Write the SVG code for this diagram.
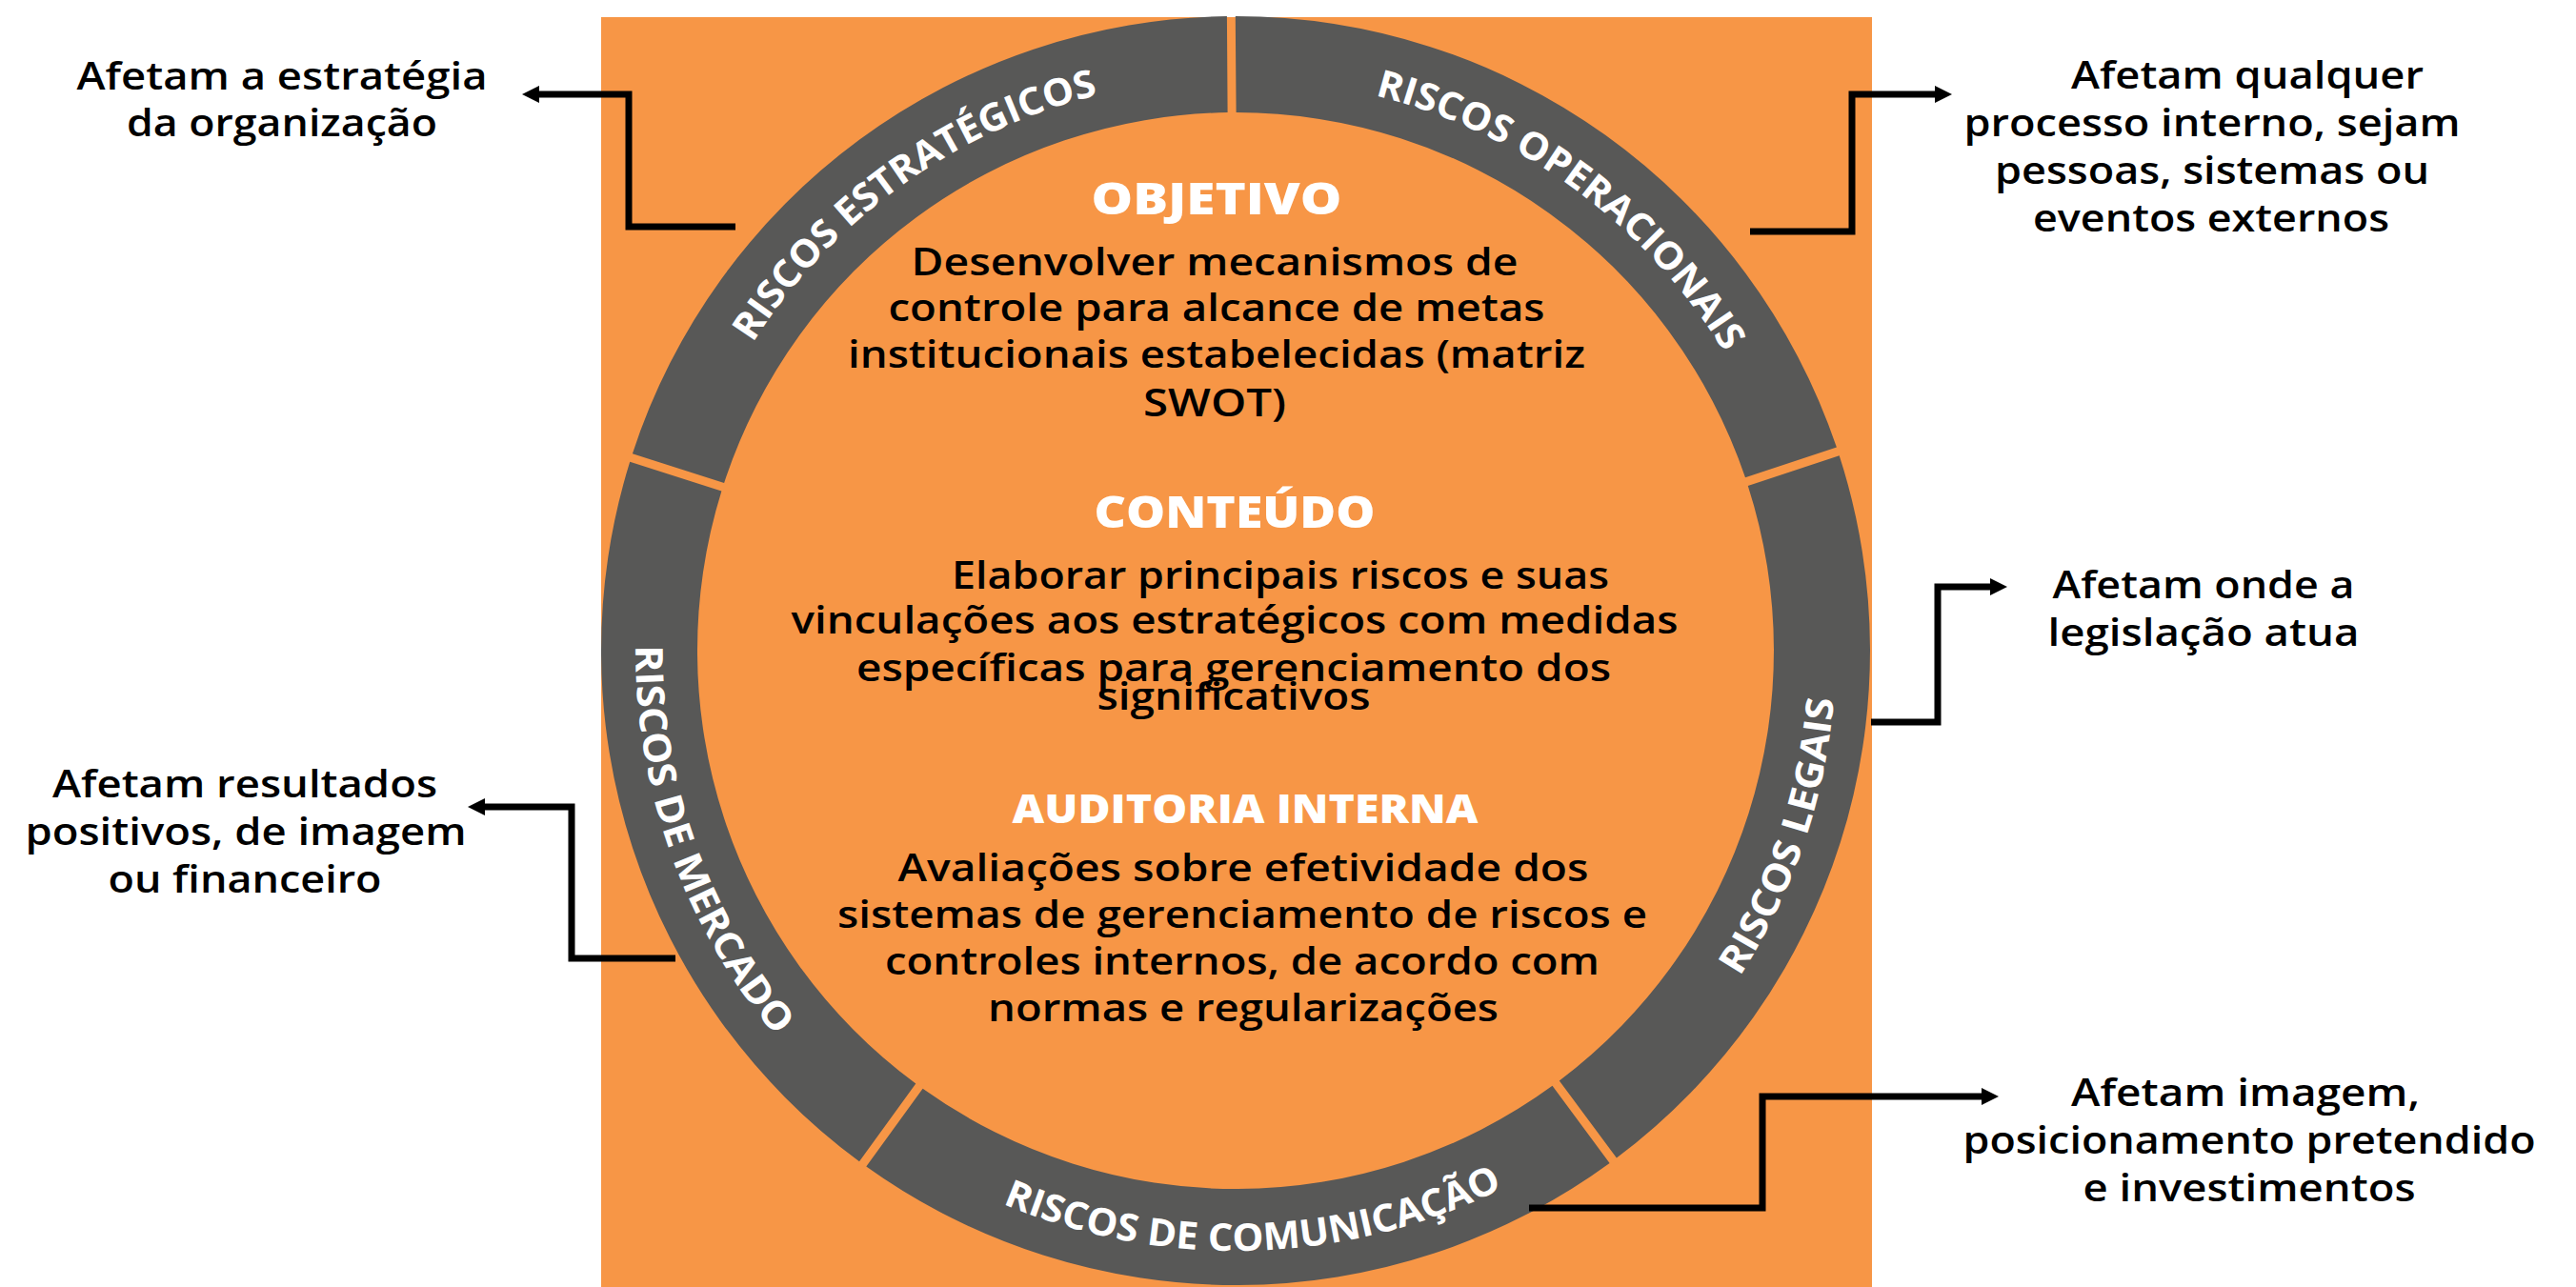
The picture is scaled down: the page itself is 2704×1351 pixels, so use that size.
<svg xmlns="http://www.w3.org/2000/svg" xmlns:xlink="http://www.w3.org/1999/xlink" width="2704" height="1351" viewBox="0 0 2704 1351">
<style>
.txt{font-family:"Open Sans","Liberation Sans",sans-serif;font-size:40px;font-weight:600;fill:#000;text-anchor:middle}
.title{font-family:"Open Sans","Liberation Sans",sans-serif;font-weight:800;fill:#fff;text-anchor:middle}
.ring{font-family:"Open Sans","Liberation Sans",sans-serif;font-size:40px;font-weight:700;fill:#fff;text-anchor:middle}
.seg{fill:#585857}
.conn{fill:none;stroke:#000;stroke-width:7;stroke-linejoin:miter}
</style>
<defs>
<marker id="arrow" markerUnits="userSpaceOnUse" viewBox="0 0 18 18" markerWidth="18" markerHeight="18" refX="6" refY="9" orient="auto">
<path d="M0,0 L18,9 L0,18 Z" fill="#000"/>
</marker>
<path id="p-estr" d="M733.3,474.5 A601,601 0 0 1 1279.2,82.3"/>
<path id="p-oper" d="M1321.6,82.5 A601,601 0 0 1 1863.0,480.9"/>
<path id="p-leg" d="M1712.4,1156.7 A630,630 0 0 0 1914.9,560.1"/>
<path id="p-com" d="M961.3,1216.1 A630,630 0 0 0 1665.5,1194.0"/>
<path id="p-mer" d="M686.4,527.9 A630,630 0 0 0 924.5,1191.1"/>
</defs>
<rect x="0" y="0" width="2704" height="1351" fill="#fff"/>
<rect id="background" x="631" y="18" width="1334" height="1333" fill="#F79646"/>

<g id="seg-estrategicos">
<path class="seg" d="M663.9,476.2 A666,666 0 0 1 1287.9,17.1 L1288.6,118.1 A565,565 0 0 0 760.1,506.9 Z"/>
<text class="ring"><textPath xlink:href="#p-estr" startOffset="50%" textLength="457" lengthAdjust="spacingAndGlyphs">RISCOS ESTRATÉGICOS</textPath></text>
</g>
<g id="seg-operacionais">
<path class="seg" d="M1296.8,17 A666,666 0 0 1 1927.9,469.6 L1832.0,501.3 A565,565 0 0 0 1297.6,118 Z"/>
<text class="ring"><textPath xlink:href="#p-oper" startOffset="50%" textLength="467" lengthAdjust="spacingAndGlyphs">RISCOS OPERACIONAIS</textPath></text>
</g>
<g id="seg-legais">
<path class="seg" d="M1930.7,478.2 A666,666 0 0 1 1696.9,1215.6 L1636.8,1134.4 A565,565 0 0 0 1834.8,509.9 Z"/>
<text class="ring"><textPath xlink:href="#p-leg" startOffset="50%" textLength="311" lengthAdjust="spacingAndGlyphs">RISCOS LEGAIS</textPath></text>
</g>
<g id="seg-comunicacao">
<path class="seg" d="M1689.6,1221 A666,666 0 0 1 909.3,1224.5 L968.6,1142.8 A565,565 0 0 0 1629.5,1139.8 Z"/>
<text class="ring"><textPath xlink:href="#p-com" startOffset="50%" textLength="542" lengthAdjust="spacingAndGlyphs">RISCOS DE COMUNICAÇÃO</textPath></text>
</g>
<g id="seg-mercado">
<path class="seg" d="M902,1219.2 A666,666 0 0 1 661.2,484.8 L757.4,515.5 A565,565 0 0 0 961.3,1137.5 Z"/>
<text class="ring"><textPath xlink:href="#p-mer" startOffset="50%" textLength="445" lengthAdjust="spacingAndGlyphs">RISCOS DE MERCADO</textPath></text>
</g>

<g id="center-objetivo">
<text class="title" x="1277" y="225" font-size="46" textLength="263" lengthAdjust="spacingAndGlyphs">OBJETIVO</text>
<text class="txt" x="1275" y="289" textLength="637" lengthAdjust="spacingAndGlyphs">Desenvolver mecanismos de</text>
<text class="txt" x="1277" y="337" textLength="689" lengthAdjust="spacingAndGlyphs">controle para alcance de metas</text>
<text class="txt" x="1277" y="386" textLength="774" lengthAdjust="spacingAndGlyphs">institucionais estabelecidas (matriz</text>
<text class="txt" x="1275" y="437" textLength="150" lengthAdjust="spacingAndGlyphs">SWOT)</text>
</g>
<g id="center-conteudo">
<text class="title" x="1296" y="554" font-size="46" textLength="295" lengthAdjust="spacingAndGlyphs">CONTEÚDO</text>
<text class="txt" x="1344" y="618" textLength="690" lengthAdjust="spacingAndGlyphs">Elaborar principais riscos e suas</text>
<text class="txt" x="1296" y="665" textLength="931" lengthAdjust="spacingAndGlyphs">vinculações aos estratégicos com medidas</text>
<text class="txt" x="1295" y="715" textLength="792" lengthAdjust="spacingAndGlyphs">específicas para gerenciamento dos</text>
<text class="txt" x="1295" y="745" textLength="287" lengthAdjust="spacingAndGlyphs">significativos</text>
</g>
<g id="center-auditoria">
<text class="title" x="1307" y="864" font-size="42" textLength="489" lengthAdjust="spacingAndGlyphs">AUDITORIA INTERNA</text>
<text class="txt" x="1305" y="925" textLength="725" lengthAdjust="spacingAndGlyphs">Avaliações sobre efetividade dos</text>
<text class="txt" x="1304" y="974" textLength="850" lengthAdjust="spacingAndGlyphs">sistemas de gerenciamento de riscos e</text>
<text class="txt" x="1304" y="1023" textLength="750" lengthAdjust="spacingAndGlyphs">controles internos, de acordo com</text>
<text class="txt" x="1305" y="1072" textLength="536" lengthAdjust="spacingAndGlyphs">normas e regularizações</text>
</g>

<g id="connectors">
<path class="conn" marker-end="url(#arrow)" d="M772,238 H660 V99 H560"/>
<path class="conn" marker-end="url(#arrow)" d="M1837,243 H1944 V99 H2037"/>
<path class="conn" marker-end="url(#arrow)" d="M1964,758 H2034 V616 H2095"/>
<path class="conn" marker-end="url(#arrow)" d="M709,1006 H600 V847 H503"/>
<path class="conn" marker-end="url(#arrow)" d="M1605,1268 H1850 V1151 H2086"/>
</g>

<g id="label-estrategicos">
<text class="txt" x="296" y="94" textLength="431" lengthAdjust="spacingAndGlyphs">Afetam a estratégia</text>
<text class="txt" x="296" y="143" textLength="326" lengthAdjust="spacingAndGlyphs">da organização</text>
</g>
<g id="label-operacionais">
<text class="txt" x="2359" y="93" textLength="370" lengthAdjust="spacingAndGlyphs">Afetam qualquer</text>
<text class="txt" x="2322" y="143" textLength="521" lengthAdjust="spacingAndGlyphs">processo interno, sejam</text>
<text class="txt" x="2322" y="193" textLength="456" lengthAdjust="spacingAndGlyphs">pessoas, sistemas ou</text>
<text class="txt" x="2321" y="243" textLength="374" lengthAdjust="spacingAndGlyphs">eventos externos</text>
</g>
<g id="label-legais">
<text class="txt" x="2313" y="628" textLength="317" lengthAdjust="spacingAndGlyphs">Afetam onde a</text>
<text class="txt" x="2313" y="678" textLength="327" lengthAdjust="spacingAndGlyphs">legislação atua</text>
</g>
<g id="label-mercado">
<text class="txt" x="257" y="837" textLength="404" lengthAdjust="spacingAndGlyphs">Afetam resultados</text>
<text class="txt" x="258" y="887" textLength="463" lengthAdjust="spacingAndGlyphs">positivos, de imagem</text>
<text class="txt" x="257" y="937" textLength="287" lengthAdjust="spacingAndGlyphs">ou financeiro</text>
</g>
<g id="label-comunicacao">
<text class="txt" x="2357" y="1161" textLength="366" lengthAdjust="spacingAndGlyphs">Afetam imagem,</text>
<text class="txt" x="2361" y="1211" textLength="601" lengthAdjust="spacingAndGlyphs">posicionamento pretendido</text>
<text class="txt" x="2361" y="1261" textLength="349" lengthAdjust="spacingAndGlyphs">e investimentos</text>
</g>
</svg>
